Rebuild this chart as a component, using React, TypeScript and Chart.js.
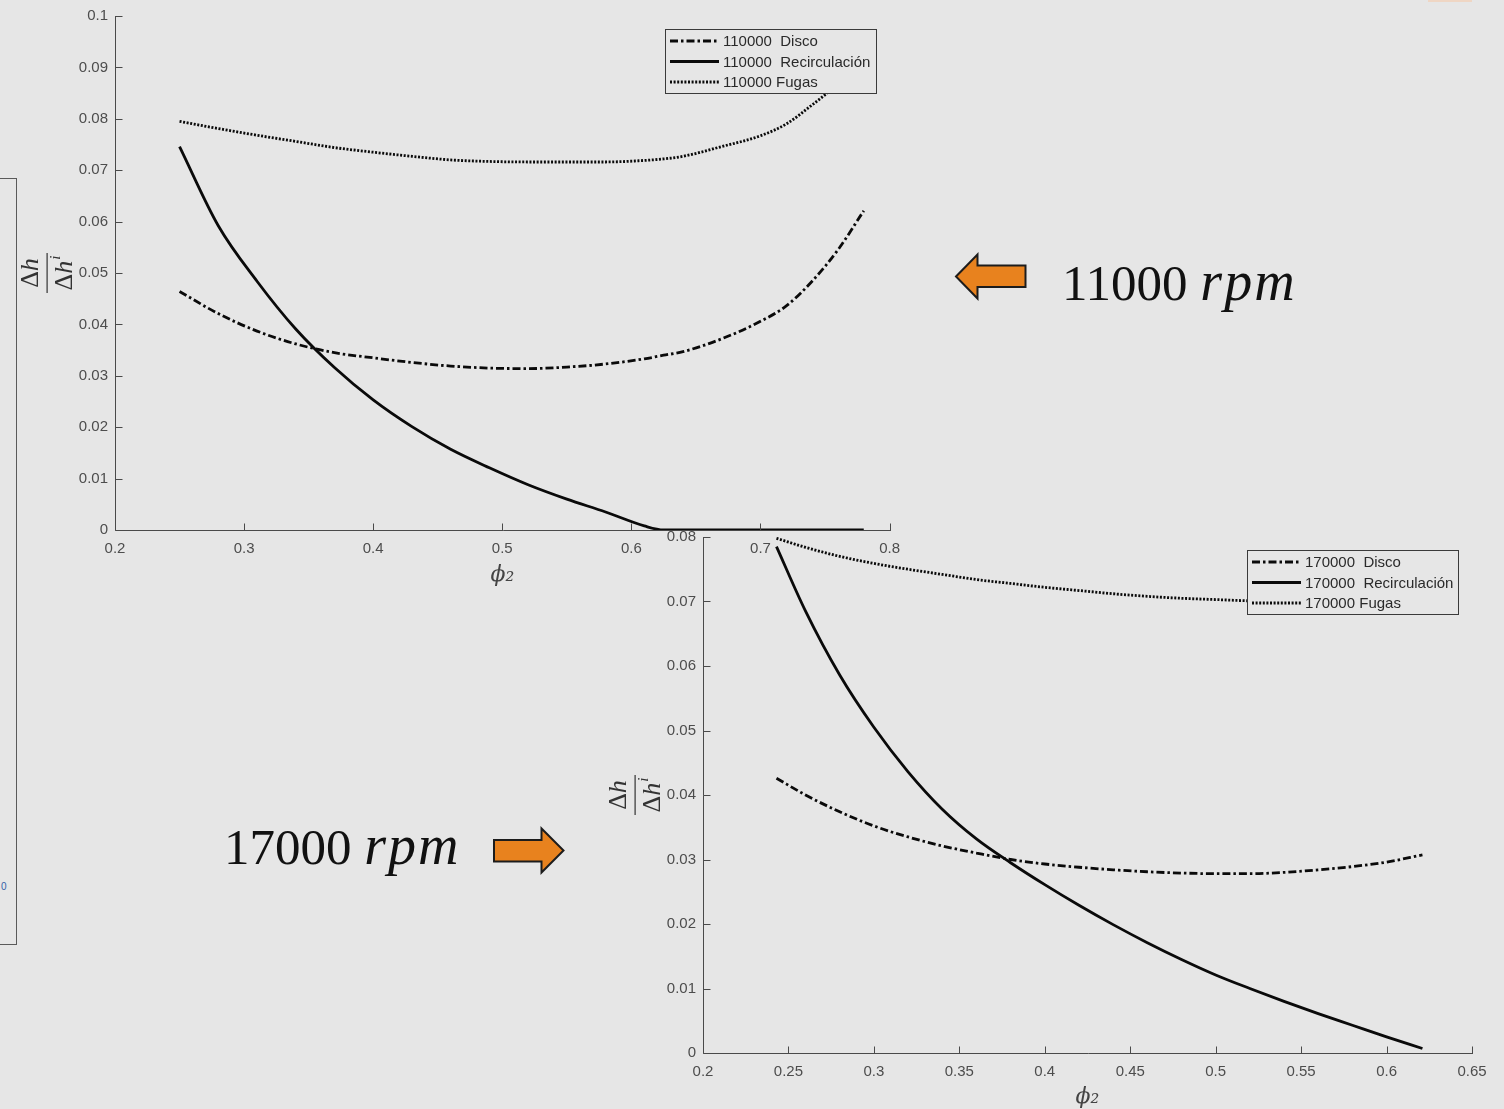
import { useEffect, useRef } from 'react';
import { Chart, registerables } from 'chart.js';

Chart.register(...registerables);

const BG = '#e6e6e6';
const INK = '#0a0a0a';
const AXIS = '#4a4a4a';
const TICK_FONT = '"Liberation Sans", Arial, sans-serif';

// φ2 sample points and loss ratios, 11000 rpm
const phi11k = [0.25, 0.28, 0.31, 0.34, 0.37, 0.40, 0.43, 0.46, 0.49, 0.52, 0.55, 0.58, 0.61, 0.625, 0.64, 0.67, 0.70, 0.72, 0.74, 0.76, 0.78];
const disco11k = [0.0464, 0.0421, 0.0387, 0.0362, 0.0345, 0.0335, 0.0326, 0.0319, 0.0315, 0.0314, 0.0317, 0.0323, 0.0333, 0.0340, 0.0347, 0.0372, 0.0406, 0.0436, 0.0484, 0.0545, 0.0621];
const recirc11k = [0.0746, 0.0592, 0.0484, 0.0391, 0.0316, 0.0253, 0.0201, 0.0157, 0.0121, 0.0088, 0.0060, 0.0035, 0.0008, 0, 0, 0, 0, 0, 0, 0, 0];
const fugas11k = [0.0795, 0.0781, 0.0768, 0.0756, 0.0744, 0.0735, 0.0727, 0.0720, 0.0717, 0.0716, 0.0716, 0.0716, 0.0719, 0.0722, 0.0727, 0.0746, 0.0767, 0.0790, 0.0827, 0.0868, 0.0920];
const legend11k = ['110000  Disco', '110000  Recirculación', '110000 Fugas'];

// φ2 sample points and loss ratios, 17000 rpm
const phi17k = [0.243, 0.26, 0.28, 0.30, 0.32, 0.34, 0.36, 0.38, 0.40, 0.42, 0.44, 0.46, 0.48, 0.50, 0.52, 0.54, 0.56, 0.58, 0.60, 0.621];
const disco17k = [0.0426, 0.0400, 0.0374, 0.0352, 0.0335, 0.0321, 0.0310, 0.0300, 0.0293, 0.0288, 0.0284, 0.0281, 0.0279, 0.0278, 0.0278, 0.0280, 0.0284, 0.0289, 0.0296, 0.0307];
const recirc17k = [0.0785, 0.0685, 0.0586, 0.0505, 0.0436, 0.0378, 0.0332, 0.0295, 0.0261, 0.0229, 0.0199, 0.0171, 0.0145, 0.0121, 0.0100, 0.0080, 0.0061, 0.0043, 0.0025, 0.0007];
const fugas17k = [0.0798, 0.0784, 0.0770, 0.0759, 0.0750, 0.0742, 0.0734, 0.0728, 0.0722, 0.0717, 0.0712, 0.0708, 0.0705, 0.0703, 0.0701, 0.0700, 0.0699, 0.0699, 0.0700, 0.0701];
const legend17k = ['170000  Disco', '170000  Recirculación', '170000 Fugas'];

const DASH_DISCO = [8, 3, 2.5, 3];
const DASH_FUGAS = [2, 1.6];
const LINE_W = 2.8;

// MATLAB-like axes: inward ticks and left/bottom axis lines only
const axesPlugin = {
  id: 'matlabAxes',
  afterDatasetsDraw(chart: any) {
    const { ctx, chartArea, scales } = chart;
    const x = scales.x;
    const y = scales.y;
    ctx.save();
    ctx.strokeStyle = AXIS;
    ctx.lineWidth = 1;
    ctx.setLineDash([]);
    ctx.beginPath();
    const b = Math.round(chartArea.bottom) + 0.5;
    const l = Math.round(chartArea.left) + 0.5;
    ctx.moveTo(l, Math.round(chartArea.top));
    ctx.lineTo(l, b);
    ctx.lineTo(Math.round(chartArea.right) + 1, b);
    x.ticks.forEach((t: any) => {
      const px = Math.round(x.getPixelForValue(t.value)) + 0.5;
      ctx.moveTo(px, b);
      ctx.lineTo(px, b - 7);
    });
    y.ticks.forEach((t: any) => {
      const py = Math.round(y.getPixelForValue(t.value)) + 0.5;
      ctx.moveTo(l, py);
      ctx.lineTo(l + 7, py);
    });
    ctx.stroke();
    ctx.restore();
  },
};

// Rotated Δh / Δh^i fraction used as the y-axis title
function drawDeltaH(ctx: CanvasRenderingContext2D, baseline: number, sup: boolean) {
  const up = '26px "Liberation Serif", serif';
  const it = 'italic 26px "Liberation Serif", serif';
  const sm = 'italic 15px "Liberation Serif", serif';
  ctx.font = up;
  const wD = ctx.measureText('Δ').width;
  ctx.font = it;
  const wH = ctx.measureText('h').width;
  ctx.font = sm;
  const wI = sup ? ctx.measureText('i').width + 1 : 0;
  let x = -(wD + wH + wI) / 2;
  ctx.font = up;
  ctx.fillText('Δ', x, baseline);
  x += wD;
  ctx.font = it;
  ctx.fillText('h', x, baseline);
  x += wH;
  if (sup) {
    ctx.font = sm;
    ctx.fillText('i', x + 1, baseline - 12);
  }
}

const fractionPlugin = {
  id: 'fractionTitle',
  afterDraw(chart: any) {
    const { ctx, chartArea } = chart;
    const cx = chartArea.left - 68;
    const cy = (chartArea.top + chartArea.bottom) / 2;
    ctx.save();
    ctx.translate(cx, cy);
    ctx.rotate(-Math.PI / 2);
    ctx.fillStyle = '#333333';
    ctx.textAlign = 'left';
    ctx.textBaseline = 'alphabetic';
    drawDeltaH(ctx, -9, false);
    ctx.fillRect(-20, -0.5, 40, 1.2);
    drawDeltaH(ctx, 25, true);
    ctx.restore();
  },
};

// Boxed legend in the north-east corner
const boxLegendPlugin = {
  id: 'boxLegend',
  afterDraw(chart: any) {
    const { ctx, chartArea } = chart;
    const w = 211;
    const h = 64;
    const x = Math.round(chartArea.right - 14 - w);
    const y = Math.round(chartArea.top + 13);
    ctx.save();
    ctx.fillStyle = BG;
    ctx.fillRect(x, y, w, h);
    ctx.strokeStyle = '#3a3a3a';
    ctx.lineWidth = 1;
    ctx.setLineDash([]);
    ctx.strokeRect(x + 0.5, y + 0.5, w, h);
    chart.data.datasets.forEach((ds: any, i: number) => {
      const ry = y + 12 + i * 20.5;
      ctx.beginPath();
      ctx.setLineDash(ds.borderDash || []);
      ctx.lineWidth = ds.borderWidth;
      ctx.strokeStyle = ds.borderColor;
      ctx.moveTo(x + 5, ry);
      ctx.lineTo(x + 54, ry);
      ctx.stroke();
      ctx.setLineDash([]);
      ctx.fillStyle = '#2a2a2a';
      ctx.font = '15px ' + TICK_FONT;
      ctx.textAlign = 'left';
      ctx.textBaseline = 'middle';
      ctx.fillText(ds.label, x + 58, ry + 1);
    });
    ctx.restore();
  },
};

type PanelProps = {
  phi: number[];
  disco: number[];
  recirc: number[];
  fugas: number[];
  labels: string[];
  xMax: number;
  xStep: number;
  yMax: number;
  left: number;
  top: number;
  width: number;
  height: number;
  padTop: number;
  padRight: number;
  yAxisWidth: number;
  xAxisHeight: number;
  titlePad: number;
};

const fmt = (v: number | string) => {
  const n = Number(v);
  return n === 0 ? '0' : String(+n.toFixed(3));
};

function LossPanel(p: PanelProps) {
  const ref = useRef<HTMLCanvasElement>(null);
  useEffect(() => {
    const pts = (ys: number[]) => ys.map((y, i) => ({ x: p.phi[i], y }));
    const base = {
      borderColor: INK,
      borderWidth: LINE_W,
      pointRadius: 0,
      cubicInterpolationMode: 'monotone',
      fill: false,
    };
    const chart = new Chart(ref.current as HTMLCanvasElement, {
      type: 'line',
      data: {
        datasets: [
          { ...base, label: p.labels[0], data: pts(p.disco), borderDash: DASH_DISCO },
          { ...base, label: p.labels[1], data: pts(p.recirc), borderDash: [] },
          { ...base, label: p.labels[2], data: pts(p.fugas), borderDash: DASH_FUGAS },
        ],
      } as any,
      options: {
        animation: false,
        responsive: false,
        devicePixelRatio: 1,
        layout: { padding: { top: p.padTop, right: p.padRight, bottom: 0, left: 0 } },
        plugins: { legend: { display: false }, tooltip: { enabled: false } },
        scales: {
          x: {
            type: 'linear',
            min: 0.2,
            max: p.xMax,
            grid: { display: false, drawTicks: false },
            border: { display: false },
            ticks: {
              stepSize: p.xStep,
              autoSkip: false,
              maxRotation: 0,
              padding: 10,
              color: '#4d4d4d',
              font: { family: TICK_FONT, size: 15 },
              callback: fmt,
            },
            title: {
              display: true,
              text: 'ϕ₂',
              color: '#444444',
              font: { family: '"DejaVu Serif", "Liberation Serif", serif', size: 22, style: 'italic' },
              padding: { top: 0, bottom: p.titlePad },
            },
            afterFit: (s: any) => {
              s.height = p.xAxisHeight;
            },
          },
          y: {
            type: 'linear',
            min: 0,
            max: p.yMax,
            grid: { display: false, drawTicks: false },
            border: { display: false },
            ticks: {
              stepSize: 0.01,
              autoSkip: false,
              padding: 7,
              color: '#4d4d4d',
              font: { family: TICK_FONT, size: 15 },
              callback: fmt,
            },
            afterFit: (s: any) => {
              s.width = p.yAxisWidth;
            },
          },
        },
      } as any,
      plugins: [axesPlugin, fractionPlugin, boxLegendPlugin],
    });
    return () => chart.destroy();
  }, []);
  return (
    <canvas
      ref={ref}
      width={p.width}
      height={p.height}
      style={{ position: 'absolute', left: p.left, top: p.top, width: p.width, height: p.height }}
    />
  );
}

const rpmText: any = {
  position: 'absolute',
  fontFamily: '"Liberation Serif", serif',
  fontSize: 51,
  lineHeight: '50px',
  color: '#111111',
  whiteSpace: 'pre',
};

const rpmUnit: any = { fontSize: 56, letterSpacing: 2 };

export default function App() {
  return (
    <div
      style={{
        position: 'absolute',
        left: 0,
        top: 0,
        width: 1504,
        height: 1109,
        overflow: 'hidden',
        background: BG,
      }}
    >
      <div
        style={{
          position: 'absolute',
          left: -2,
          top: 178,
          width: 17,
          height: 765,
          border: '1px solid #5a5a5a',
        }}
      />
      <div
        style={{
          position: 'absolute',
          left: 1,
          top: 881,
          fontFamily: TICK_FONT,
          fontSize: 10,
          color: '#3563a8',
        }}
      >
        0
      </div>
      <div style={{ position: 'absolute', left: 1428, top: 0, width: 44, height: 2, background: '#efd6c4' }} />

      <LossPanel
        phi={phi11k}
        disco={disco11k}
        recirc={recirc11k}
        fugas={fugas11k}
        labels={legend11k}
        xMax={0.8}
        xStep={0.1}
        yMax={0.1}
        left={0}
        top={0}
        width={910}
        height={600}
        padTop={14}
        padRight={20}
        yAxisWidth={115}
        xAxisHeight={70}
        titlePad={12}
      />
      <LossPanel
        phi={phi17k}
        disco={disco17k}
        recirc={recirc17k}
        fugas={fugas17k}
        labels={legend17k}
        xMax={0.65}
        xStep={0.05}
        yMax={0.08}
        left={600}
        top={520}
        width={900}
        height={589}
        padTop={17}
        padRight={28}
        yAxisWidth={103}
        xAxisHeight={56}
        titlePad={-1}
      />

      <svg width={1504} height={1109} style={{ position: 'absolute', left: 0, top: 0, pointerEvents: 'none' }}>
        <polygon
          points="956,276.5 977.5,254.5 977.5,265.5 1025.5,265.5 1025.5,287 977.5,287 977.5,298.5"
          fill="#e8821e"
          stroke="#1c1c1c"
          strokeWidth={2}
        />
        <polygon
          points="494,840 541.5,840 541.5,828.5 563.5,850.5 541.5,872.5 541.5,861.5 494,861.5"
          fill="#e8821e"
          stroke="#1c1c1c"
          strokeWidth={2}
        />
      </svg>

      <div style={{ ...rpmText, left: 1062, top: 256 }}>
        11000 <i style={rpmUnit}>rpm</i>
      </div>
      <div style={{ ...rpmText, left: 224, top: 820 }}>
        17000 <i style={rpmUnit}>rpm</i>
      </div>
    </div>
  );
}
